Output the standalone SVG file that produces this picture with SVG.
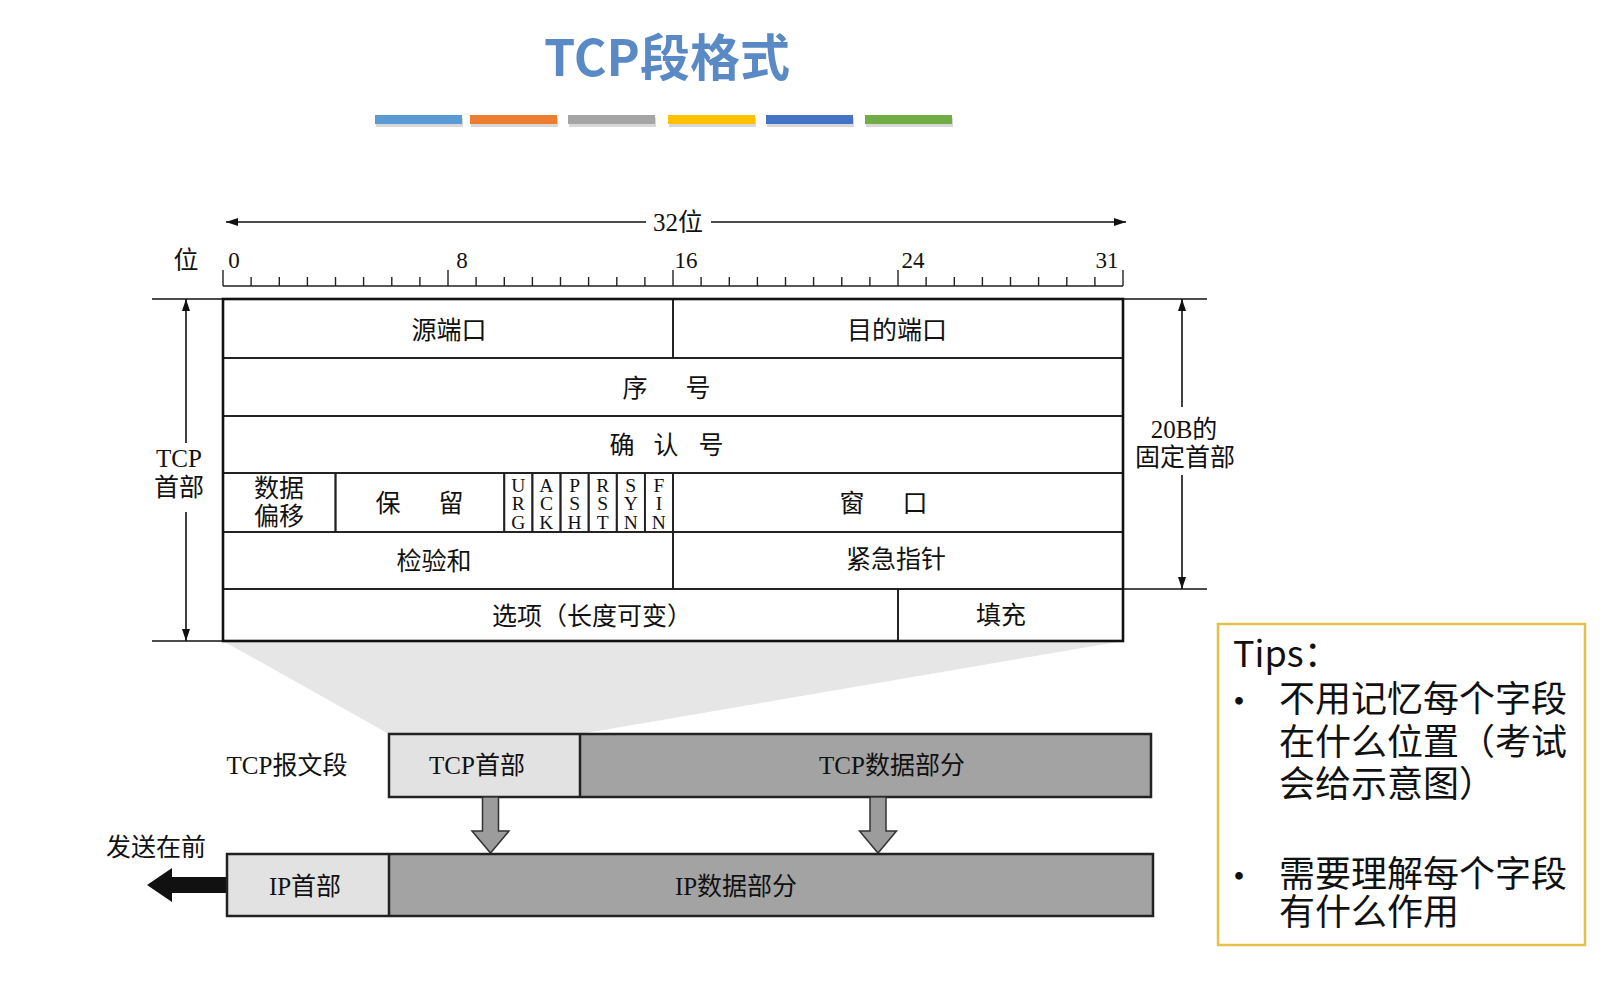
<svg xmlns="http://www.w3.org/2000/svg" width="1610" height="987" viewBox="0 0 1610 987">
<defs>
<style>
.t{font-family:"Liberation Serif","Noto Sans CJK SC",serif;fill:#111;text-anchor:middle;dominant-baseline:central;font-size:25px}
.num{font-family:"Liberation Serif",serif;fill:#111;text-anchor:middle;font-size:23px}
.flag{font-family:"Liberation Serif",serif;font-size:19.5px;text-anchor:middle;fill:#111}
.cell{fill:none;stroke:#222;stroke-width:1.8}
.outer{fill:none;stroke:#111;stroke-width:2.6}
.dim{stroke:#111;stroke-width:1.6;fill:none}
.tick{stroke:#222;stroke-width:1.4;fill:none}
.box{stroke:#222;stroke-width:2.5}
.light{fill:#e2e2e2}
.dark{fill:#a3a3a3}
.darr{fill:#9c9c9c;stroke:#333;stroke-width:1.5}
.tips{font-family:"Noto Sans CJK SC","Liberation Sans",sans-serif;font-size:36px;fill:#111}
</style>
<marker id="ah" viewBox="0 0 12 8" refX="12" refY="4" markerWidth="12" markerHeight="8" markerUnits="userSpaceOnUse" orient="auto-start-reverse">
<path d="M0,0 L12,4 L0,8 z" fill="#111"/>
</marker>
</defs>
<rect width="1610" height="987" fill="#ffffff"/>

<g id="title">
<text x="667" y="76" font-family="'Noto Sans CJK SC','Liberation Sans',sans-serif" font-size="50" font-weight="bold" fill="#5a8ac6" text-anchor="middle">TCP段格式</text>
<g id="color-bars">
<rect x="376" y="118" width="87" height="9" fill="#d8d8d8"/>
<rect x="471" y="118" width="87" height="9" fill="#d8d8d8"/>
<rect x="569" y="118" width="87" height="9" fill="#d8d8d8"/>
<rect x="669" y="118" width="87" height="9" fill="#d8d8d8"/>
<rect x="767" y="118" width="87" height="9" fill="#d8d8d8"/>
<rect x="866" y="118" width="87" height="9" fill="#d8d8d8"/>
<rect x="375" y="115" width="87" height="9" fill="#5b9bd5"/>
<rect x="470" y="115" width="87" height="9" fill="#ed7d31"/>
<rect x="568" y="115" width="87" height="9" fill="#a5a5a5"/>
<rect x="668" y="115" width="87" height="9" fill="#ffc000"/>
<rect x="766" y="115" width="87" height="9" fill="#4472c4"/>
<rect x="865" y="115" width="87" height="9" fill="#70ad47"/>
</g>
</g>

<g id="ruler">
<line class="dim" x1="226" y1="222" x2="646" y2="222" marker-start="url(#ah)"/>
<line class="dim" x1="711" y1="222" x2="1126" y2="222" marker-end="url(#ah)"/>
<text class="t" x="678" y="222">32位</text>
<text class="t" x="186" y="260" font-size="25">位</text>
<text class="num" x="234" y="268">0</text>
<text class="num" x="462" y="268">8</text>
<text class="num" x="686" y="268">16</text>
<text class="num" x="913" y="268">24</text>
<text class="num" x="1107" y="268">31</text>
<path class="tick" d="M223,286 H1123
M223,270 V286 M251.1,277 V286 M279.3,277 V286 M307.4,277 V286 M335.5,277 V286 M363.6,277 V286 M391.8,277 V286 M419.9,277 V286
M448,270 V286 M476.1,277 V286 M504.3,277 V286 M532.4,277 V286 M560.5,277 V286 M588.6,277 V286 M616.8,277 V286 M644.9,277 V286
M673,270 V286 M701.1,277 V286 M729.3,277 V286 M757.4,277 V286 M785.5,277 V286 M813.6,277 V286 M841.8,277 V286 M869.9,277 V286
M898,270 V286 M926.1,277 V286 M954.3,277 V286 M982.4,277 V286 M1010.5,277 V286 M1038.6,277 V286 M1066.8,277 V286 M1094.9,277 V286
M1123,270 V286"/>
</g>

<g id="zoom-shade">
<polygon points="223,641 1123,641 580,734 389,734" fill="#e6e6e6"/>
</g>

<g id="tcp-header-table">
<g id="row-ports">
<rect class="cell" x="223" y="299" width="450" height="59"/>
<rect class="cell" x="673" y="299" width="450" height="59"/>
<text class="t" x="449" y="330">源端口</text>
<text class="t" x="897" y="330">目的端口</text>
</g>
<g id="row-seq">
<rect class="cell" x="223" y="358" width="900" height="58"/>
<text class="t" x="635 698" y="388">序号</text>
</g>
<g id="row-ack">
<rect class="cell" x="223" y="416" width="900" height="57"/>
<text class="t" x="622 666 711" y="445">确认号</text>
</g>
<g id="row-flags">
<rect class="cell" x="223" y="473" width="112.5" height="59"/>
<text class="t" x="279" y="488">数据</text>
<text class="t" x="279" y="516">偏移</text>
<rect class="cell" x="335.5" y="473" width="168.75" height="59"/>
<text class="t" x="388 451" y="503">保留</text>
<rect class="cell" x="504.25" y="473" width="28.125" height="59"/>
<rect class="cell" x="532.375" y="473" width="28.125" height="59"/>
<rect class="cell" x="560.5" y="473" width="28.125" height="59"/>
<rect class="cell" x="588.625" y="473" width="28.125" height="59"/>
<rect class="cell" x="616.75" y="473" width="28.125" height="59"/>
<rect class="cell" x="644.875" y="473" width="28.125" height="59"/>
<text class="flag"><tspan x="518.3" y="491.5">U</tspan><tspan x="518.3" y="510">R</tspan><tspan x="518.3" y="528.5">G</tspan></text>
<text class="flag"><tspan x="546.4" y="491.5">A</tspan><tspan x="546.4" y="510">C</tspan><tspan x="546.4" y="528.5">K</tspan></text>
<text class="flag"><tspan x="574.6" y="491.5">P</tspan><tspan x="574.6" y="510">S</tspan><tspan x="574.6" y="528.5">H</tspan></text>
<text class="flag"><tspan x="602.7" y="491.5">R</tspan><tspan x="602.7" y="510">S</tspan><tspan x="602.7" y="528.5">T</tspan></text>
<text class="flag"><tspan x="630.8" y="491.5">S</tspan><tspan x="630.8" y="510">Y</tspan><tspan x="630.8" y="528.5">N</tspan></text>
<text class="flag"><tspan x="658.9" y="491.5">F</tspan><tspan x="658.9" y="510">I</tspan><tspan x="658.9" y="528.5">N</tspan></text>
<rect class="cell" x="673" y="473" width="450" height="59"/>
<text class="t" x="852 915" y="503">窗口</text>
</g>
<g id="row-checksum">
<rect class="cell" x="223" y="532" width="450" height="57"/>
<rect class="cell" x="673" y="532" width="450" height="57"/>
<text class="t" x="434" y="561">检验和</text>
<text class="t" x="896" y="559">紧急指针</text>
</g>
<g id="row-options">
<rect class="cell" x="223" y="589" width="675" height="52"/>
<rect class="cell" x="898" y="589" width="225" height="52"/>
<text class="t" x="592" y="616">选项（长度可变）</text>
<text class="t" x="1001" y="615">填充</text>
</g>
<rect class="outer" x="223" y="299" width="900" height="342"/>
</g>

<g id="dimensions">
<line class="dim" x1="152" y1="299" x2="223" y2="299"/>
<line class="dim" x1="152" y1="641" x2="223" y2="641"/>
<line class="dim" x1="186" y1="443" x2="186" y2="299" marker-end="url(#ah)"/>
<line class="dim" x1="186" y1="512" x2="186" y2="641" marker-end="url(#ah)"/>
<text class="t" x="179" y="458" font-size="26">TCP</text>
<text class="t" x="179" y="487">首部</text>
<line class="dim" x1="1123" y1="299" x2="1207" y2="299"/>
<line class="dim" x1="1123" y1="589" x2="1207" y2="589"/>
<line class="dim" x1="1182" y1="407" x2="1182" y2="299" marker-end="url(#ah)"/>
<line class="dim" x1="1182" y1="475" x2="1182" y2="589" marker-end="url(#ah)"/>
<text class="t" x="1184" y="429" font-size="26">20B的</text>
<text class="t" x="1185" y="457" font-size="26">固定首部</text>
</g>

<g id="tcp-segment">
<text class="t" x="287" y="765">TCP报文段</text>
<rect class="light" x="389" y="734" width="191" height="63"/>
<rect class="dark" x="580" y="734" width="571" height="63"/>
<rect class="box" fill="none" x="389" y="734" width="762" height="63"/>
<line class="box" x1="580" y1="734" x2="580" y2="797"/>
<text class="t" x="477" y="765">TCP首部</text>
<text class="t" x="892" y="765">TCP数据部分</text>
</g>

<g id="connectors">
<polygon class="darr" points="482.5,797 498.5,797 498.5,831 509,831 490.5,853 472,831 482.5,831"/>
<polygon class="darr" points="870,797 886,797 886,831 896.5,831 878,853 859.5,831 870,831"/>
<polygon points="147,885 172,868 172,877 227,877 227,893 172,893 172,902" fill="#111"/>
</g>

<g id="ip-datagram">
<text class="t" x="156" y="847">发送在前</text>
<rect class="light" x="227" y="854" width="162" height="62"/>
<rect class="dark" x="389" y="854" width="764" height="62"/>
<rect class="box" fill="none" x="227" y="854" width="926" height="62"/>
<line class="box" x1="389" y1="854" x2="389" y2="916"/>
<text class="t" x="305" y="886">IP首部</text>
<text class="t" x="736" y="886">IP数据部分</text>
</g>

<g id="tips">
<rect x="1218" y="624" width="367" height="321" fill="#ffffff" stroke="#e6c04a" stroke-width="2.5"/>
<text class="tips" x="1233" y="667" font-size="30">Tips：</text>
<text class="tips" x="1239" y="715" font-size="40" text-anchor="middle">•</text>
<text class="tips" x="1279" y="712">不用记忆每个字段</text>
<text class="tips" x="1279" y="755">在什么位置（考试</text>
<text class="tips" x="1279" y="797">会给示意图）</text>
<text class="tips" x="1239" y="890" font-size="40" text-anchor="middle">•</text>
<text class="tips" x="1279" y="887">需要理解每个字段</text>
<text class="tips" x="1279" y="925">有什么作用</text>
</g>
</svg>
